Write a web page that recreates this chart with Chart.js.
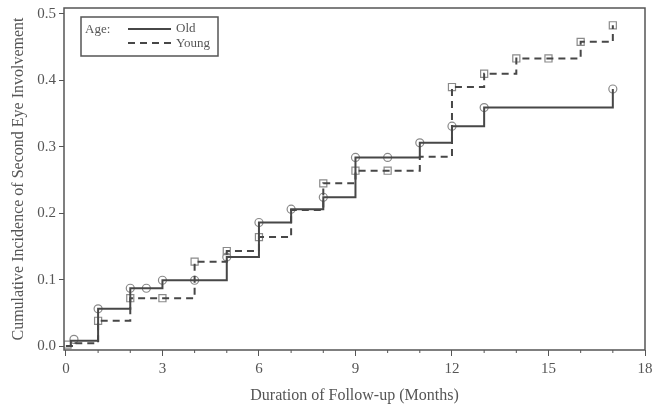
<!DOCTYPE html>
<html>
<head>
<meta charset="utf-8">
<script src="https://cdn.jsdelivr.net/npm/chart.js@4"></script>
<style>
  html, body { margin: 0; padding: 0; background: #fff; }
  #wrap { width: 655px; height: 409px; }
</style>
</head>
<body>
<div id="wrap"><canvas id="myChart" width="655" height="409"></canvas></div>
<script>
// step curves (month, cumulative incidence)
const oldMonths   = [0, 0.15, 1, 2, 3, 5, 6, 7, 8, 9, 11, 12, 13, 17]
const oldValues   = [0, 0.008, 0.056, 0.087, 0.099, 0.134, 0.186, 0.206, 0.224, 0.284, 0.306, 0.331, 0.359, 0.387]
const youngMonths = [0, 0.3, 1, 2, 4, 5, 6, 7, 8, 9, 11, 12, 13, 14, 16, 17]
const youngValues = [0, 0.004, 0.038, 0.072, 0.127, 0.143, 0.164, 0.205, 0.245, 0.264, 0.285, 0.39, 0.41, 0.433, 0.458, 0.483]

// markers
const oldMarkMonths   = [0.25, 1, 2, 2.5, 3, 4, 5, 6, 7, 8, 9, 10, 11, 12, 13, 17]
const oldMarkValues   = [0.010, 0.056, 0.087, 0.087, 0.099, 0.099, 0.134, 0.186, 0.206, 0.224, 0.284, 0.284, 0.306, 0.331, 0.359, 0.387]
const youngMarkMonths = [0.05, 1, 2, 3, 4, 5, 6, 8, 9, 10, 12, 13, 14, 15, 16, 17]
const youngMarkValues = [0.002, 0.038, 0.072, 0.072, 0.127, 0.143, 0.164, 0.245, 0.264, 0.264, 0.39, 0.41, 0.433, 0.433, 0.458, 0.483]

const xTicks = [0, 3, 6, 9, 12, 15, 18]
const yTicks = [0.0, 0.1, 0.2, 0.3, 0.4, 0.5]

const toPts = (xs, ys) => xs.map((x, i) => ({ x: x, y: ys[i] }))

const lineCol = '#474747'
const markCol = '#8a8a8a'
const textCol = '#555'
const FONT = '"Liberation Serif", "DejaVu Serif", serif'

// box around plot + legend in the upper left
const framePlugin = {
  id: 'frame',
  afterDraw(chart) {
    const { ctx, chartArea: a } = chart
    ctx.save()
    ctx.strokeStyle = '#555'
    ctx.lineWidth = 1.5
    ctx.strokeRect(a.left, a.top, a.right - a.left, a.bottom - a.top)

    // minor ticks on x (every month)
    const xs = chart.scales.x
    ctx.lineWidth = 1
    for (let m = 1; m < 18; m++) {
      if (m % 3 === 0) continue
      const px = xs.getPixelForValue(m)
      ctx.beginPath()
      ctx.moveTo(px, a.bottom)
      ctx.lineTo(px, a.bottom + 3)
      ctx.stroke()
    }

    // legend
    const lx = 81, ly = 17, lw = 137, lh = 39
    ctx.fillStyle = '#fff'
    ctx.fillRect(lx, ly, lw, lh)
    ctx.strokeStyle = '#555'
    ctx.lineWidth = 1.5
    ctx.strokeRect(lx, ly, lw, lh)
    ctx.font = '13px ' + FONT
    ctx.fillStyle = textCol
    ctx.textBaseline = 'middle'
    ctx.fillText('Age:', 85, 30)
    ctx.fillText('Old', 176, 29)
    ctx.fillText('Young', 176, 44)
    ctx.strokeStyle = lineCol
    ctx.lineWidth = 2
    ctx.beginPath()
    ctx.moveTo(128, 29); ctx.lineTo(171, 29)
    ctx.stroke()
    ctx.setLineDash([7, 5])
    ctx.beginPath()
    ctx.moveTo(128, 43); ctx.lineTo(171, 43)
    ctx.stroke()
    ctx.restore()
  }
}

const ctx = document.getElementById('myChart').getContext('2d')
new Chart(ctx, {
  type: 'scatter',
  data: {
    datasets: [
      {
        label: 'Old',
        data: toPts(oldMonths, oldValues),
        showLine: true,
        stepped: 'before',
        borderColor: lineCol,
        borderWidth: 2,
        pointRadius: 0,
      },
      {
        label: 'Young',
        data: toPts(youngMonths, youngValues),
        showLine: true,
        stepped: 'before',
        borderColor: lineCol,
        borderWidth: 2,
        borderDash: [7, 5],
        pointRadius: 0,
      },
      {
        label: 'Old censored',
        data: toPts(oldMarkMonths, oldMarkValues),
        showLine: false,
        pointStyle: 'circle',
        pointRadius: 4,
        pointBorderWidth: 1.2,
        pointBorderColor: markCol,
        pointBackgroundColor: 'rgba(255,255,255,0)',
      },
      {
        label: 'Young censored',
        data: toPts(youngMarkMonths, youngMarkValues),
        showLine: false,
        pointStyle: 'rect',
        pointRadius: 5,
        pointBorderWidth: 1.2,
        pointBorderColor: markCol,
        pointBackgroundColor: 'rgba(255,255,255,0)',
      },
    ]
  },
  options: {
    responsive: false,
    animation: false,
    layout: { padding: { top: 8, right: 10, left: 0, bottom: 0 } },
    plugins: {
      legend: { display: false },
      tooltip: { enabled: false },
    },
    scales: {
      x: {
        type: 'linear',
        min: -0.06,
        max: 18,
        afterBuildTicks: (s) => { s.ticks = xTicks.map(v => ({ value: v })) },
        afterFit: (s) => { s.height = 59; s.paddingRight = 0; s.paddingLeft = 0 },
        grid: { drawOnChartArea: false, drawTicks: true, tickLength: 6, color: '#555' },
        border: { display: false },
        ticks: { color: textCol, font: { family: FONT, size: 15 }, padding: 4, callback: v => v },
        title: {
          display: true,
          text: 'Duration of Follow-up (Months)',
          color: textCol,
          font: { family: FONT, size: 16 },
          padding: { top: 10 },
        },
      },
      y: {
        type: 'linear',
        min: -0.006,
        max: 0.509,
        afterBuildTicks: (s) => { s.ticks = yTicks.map(v => ({ value: v })) },
        afterFit: (s) => { s.width = 64; s.paddingTop = 0; s.paddingBottom = 0 },
        grid: { drawOnChartArea: false, drawTicks: true, tickLength: 5, color: '#555' },
        border: { display: false },
        ticks: { color: textCol, font: { family: FONT, size: 15 }, padding: 3, callback: v => v.toFixed(1) },
        title: {
          display: true,
          text: 'Cumulative Incidence of Second Eye Involvement',
          color: textCol,
          font: { family: FONT, size: 16 },
          padding: { top: 9, bottom: 0 },
        },
      },
    }
  },
  plugins: [framePlugin]
})
</script>
</body>
</html>
